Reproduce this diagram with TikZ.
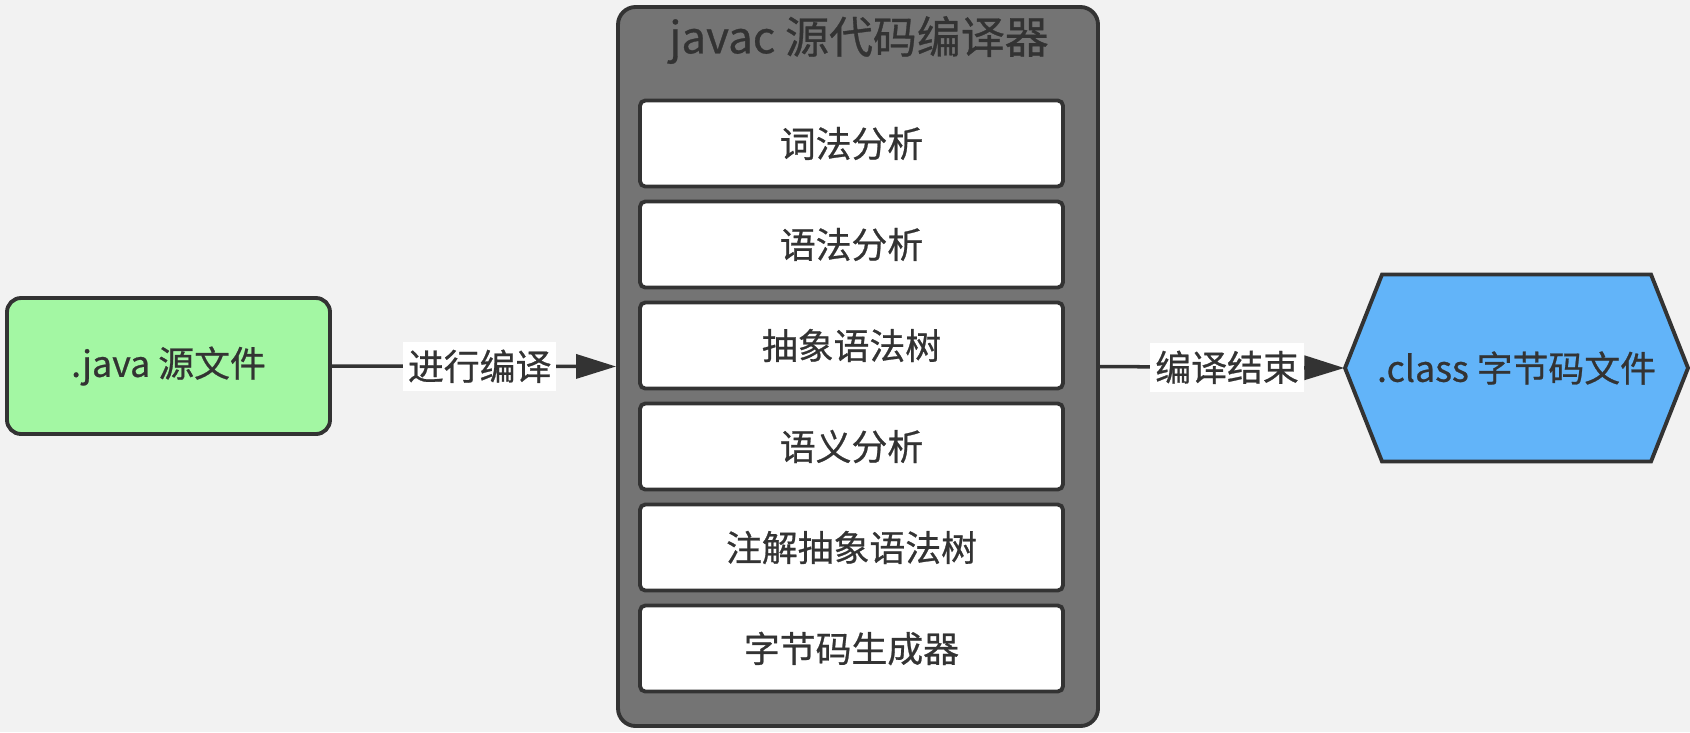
\documentclass[tikz,border=0pt]{standalone}
\usepackage{fontspec}
\setmainfont{Noto Sans CJK SC}[FakeBold=0.7]
\usepackage{xcolor}
\usepackage{tikz}
\usetikzlibrary{arrows.meta}

\definecolor{bgcol}{HTML}{F2F2F2}
\definecolor{edgecol}{HTML}{333333}
\definecolor{srcgreen}{HTML}{A3F7A3}
\definecolor{javacgray}{HTML}{747474}
\definecolor{clsblue}{HTML}{62B4F9}

\begin{document}
\begin{tikzpicture}[
    font=\fontsize{10.2}{12}\selectfont,
    box/.style={draw=edgecol, line width=1.1pt, text=edgecol},
    stage/.style={box, fill=white, rounded corners=1.5pt, minimum width=4.23cm, minimum height=0.86cm},
    flow/.style={draw=edgecol, line width=1pt, -{Triangle[length=4mm,width=2.4mm]}},
    flowlabel/.style={fill=white, text=edgecol, inner xsep=0.5mm, inner ysep=0.8mm}
  ]
    % background
    \fill[bgcol] (0,0) rectangle (16.9,7.32);
    \useasboundingbox (0,0) rectangle (16.9,7.32);

    % source file
    \node[box, fill=srcgreen, rounded corners=4pt, minimum width=3.23cm, minimum height=1.36cm] (src) at (1.685,3.66) {.java 源文件};

    % javac container
    \node[box, fill=javacgray, rounded corners=5pt, minimum width=4.8cm, minimum height=7.19cm] (javac) at (8.58,3.655) {};
    \node[text=edgecol, font=\fontsize{12.5}{15}\selectfont] (title) at (8.59,6.92) {javac 源代码编译器};

    % compiler stages
    \foreach \i/\txt in {1/词法分析, 2/语法分析, 3/抽象语法树, 4/语义分析, 5/注解抽象语法树, 6/字节码生成器} {
      \node[stage] (stage\i) at (8.515,{5.885-1.01*(\i-1)}) {\txt};
    }

    % class file (hexagon)
    \draw[box, fill=clsblue] (13.45,3.64) -- (13.82,4.575) -- (16.51,4.575) -- (16.88,3.64) -- (16.51,2.705) -- (13.82,2.705) -- cycle;
    \node[text=edgecol, minimum width=3.43cm, minimum height=1.87cm] (cls) at (15.165,3.64) {.class 字节码文件};

    % arrows
    \draw[flow] (src.east) -- node[flowlabel, pos=0.52] (compile) {进行编译} (javac.west);
    \draw[flow] (javac.east) -- node[flowlabel, pos=0.52] (done) {编译结束} (cls.west);
\end{tikzpicture}
\end{document}
